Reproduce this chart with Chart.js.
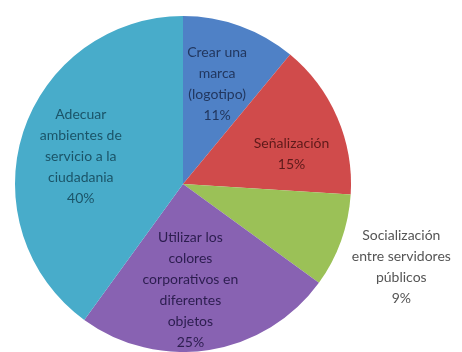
<!DOCTYPE html>
<html>
<head>
<meta charset="utf-8">
<script src="https://cdn.jsdelivr.net/npm/chart.js@4/dist/chart.umd.min.js"></script>
<style>
  html, body { margin: 0; padding: 0; background: #ffffff; }
  #wrap { width: 462px; height: 352px; }
</style>
</head>
<body>
<div id="wrap"><canvas id="pie" width="462" height="352"></canvas></div>
<script>
// Categories (label lines) and their shares, clockwise from 12 o'clock
const categories = [
  ["Crear una", "marca", "(logotipo)"],
  ["Señalización"],
  ["Socialización", "entre servidores", "públicos"],
  ["Utilizar los", "colores", "corporativos en", "diferentes", "objetos"],
  ["Adecuar", "ambientes de", "servicio a la", "ciudadania"]
];
const shares = [11, 15, 9, 25, 40];

const sliceColors = ["#4f81c6", "#d04b4b", "#9bc157", "#8862b2", "#48acca"];
const labelColors = ["#22375f", "#5e1a1a", "#555555", "#2c1d4f", "#1b5468"];
// label placement: fraction of radius and angular nudge (degrees) per slice
const labelRadius = [0.63, 0.67, 1.39, 0.63, 0.63];
const labelNudge  = [-1, 8, 1, 5, -3];

const sliceLabels = {
  id: 'sliceLabels',
  afterDatasetsDraw(chart) {
    const ctx = chart.ctx;
    const meta = chart.getDatasetMeta(0);
    ctx.save();
    ctx.font = '14px Lato, "Open Sans", sans-serif';
    ctx.textAlign = 'center';
    ctx.textBaseline = 'middle';
    const lineH = 21;
    meta.data.forEach((arc, i) => {
      const p = arc.getProps(['x', 'y', 'startAngle', 'endAngle', 'outerRadius']);
      const mid = (p.startAngle + p.endAngle) / 2 + labelNudge[i] * Math.PI / 180;
      const r = p.outerRadius * labelRadius[i];
      const cx = p.x + Math.cos(mid) * r;
      const cy = p.y + Math.sin(mid) * r;
      const lines = categories[i].concat([shares[i] + '%']);
      const y0 = cy - (lines.length - 1) * lineH / 2;
      ctx.fillStyle = labelColors[i];
      lines.forEach((t, k) => ctx.fillText(t, cx, y0 + k * lineH));
    });
    ctx.restore();
  }
};

new Chart(document.getElementById('pie'), {
  type: 'pie',
  data: {
    labels: categories.map(c => c.join(' ')),
    datasets: [{
      data: shares,
      backgroundColor: sliceColors,
      borderWidth: 0
    }]
  },
  options: {
    responsive: false,
    animation: false,
    layout: { padding: { left: 15, right: 111, top: 16, bottom: 0 } },
    plugins: {
      legend: { display: false },
      tooltip: { enabled: false }
    }
  },
  plugins: [sliceLabels]
});
</script>
</body>
</html>
